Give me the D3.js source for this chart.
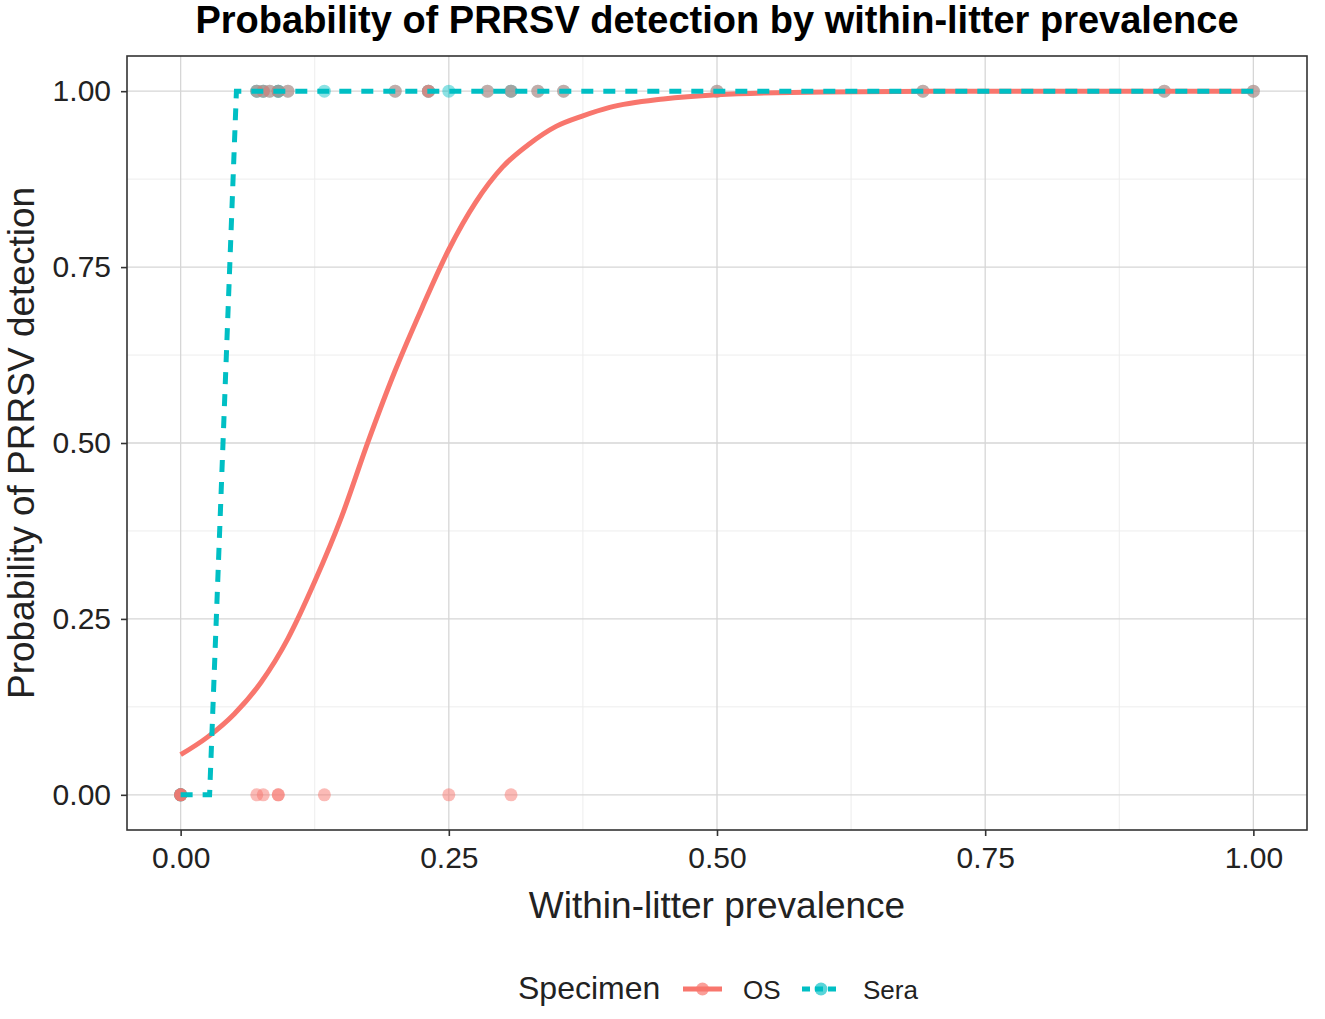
<!DOCTYPE html>
<html>
<head>
<meta charset="utf-8">
<script src="https://cdn.jsdelivr.net/npm/d3@7"></script>
<style>
  body { margin: 0; background: #fff; }
  text { font-family: "Liberation Sans", Arial, sans-serif; }
</style>
</head>
<body>
<div id="vis"></div>
<script>
const width = 1325;
const height = 1019;
const panel = { left: 127, right: 1307, top: 56, bottom: 830 };

// litter-level observations: prevalence, OS result, sera result
const litterPrev = [0, 0, 0, 0, 0.071, 0.071, 0.077, 0.077, 0.083, 0.091, 0.091, 0.091, 0.1,
  0.134, 0.2, 0.231, 0.231, 0.25, 0.286, 0.308, 0.308, 0.333, 0.357, 0.5, 0.692, 0.917, 1.0];
const osResult = [0, 0, 0, 0, 0, 1, 0, 1, 1, 0, 0, 1, 1,
  0, 1, 1, 1, 0, 1, 0, 1, 1, 1, 1, 1, 1, 1];
const seraResult = [0, 0, 0, 0, 1, 1, 1, 1, 1, 1, 1, 1, 1,
  1, 1, 1, 1, 1, 1, 1, 1, 1, 1, 1, 1, 1, 1];

// fitted curves
const osCurveX = [0, 0.025, 0.05, 0.075, 0.1, 0.125, 0.15, 0.175, 0.2, 0.225, 0.25, 0.275,
  0.3, 0.325, 0.35, 0.375, 0.4, 0.45, 0.5, 0.6, 0.7, 0.8, 0.9, 1.0];
const osCurveY = [0.057, 0.082, 0.115, 0.16, 0.222, 0.303, 0.395, 0.503, 0.603, 0.692, 0.775, 0.842,
  0.892, 0.925, 0.95, 0.965, 0.977, 0.989, 0.995, 0.999, 1.0, 1.0, 1.0, 1.0];
const seraCurveX = [0, 0.027, 0.052, 0.1, 0.5, 1.0];
const seraCurveY = [0, 0, 1, 1, 1, 1];

const xTicks = [0, 0.25, 0.5, 0.75, 1];
const yTicks = [0, 0.25, 0.5, 0.75, 1];
const minorTicks = [0.125, 0.375, 0.625, 0.875];

const osColor = "#F8766D";
const seraColor = "#00BFC4";

const xScale = d3.scaleLinear().domain([-0.05, 1.05]).range([panel.left, panel.right]);
const yScale = d3.scaleLinear().domain([-0.05, 1.05]).range([panel.bottom, panel.top]);

const svg = d3.select("#vis")
  .append("svg")
  .attr("width", width)
  .attr("height", height);

// grid
const grid = svg.append("g");
grid.selectAll(".vminor").data(minorTicks).enter().append("line")
  .attr("x1", d => xScale(d)).attr("x2", d => xScale(d))
  .attr("y1", panel.top).attr("y2", panel.bottom)
  .attr("stroke", "#ededed").attr("stroke-width", 1);
grid.selectAll(".hminor").data(minorTicks).enter().append("line")
  .attr("y1", d => yScale(d)).attr("y2", d => yScale(d))
  .attr("x1", panel.left).attr("x2", panel.right)
  .attr("stroke", "#ededed").attr("stroke-width", 1);
grid.selectAll(".vmajor").data(xTicks).enter().append("line")
  .attr("x1", d => xScale(d)).attr("x2", d => xScale(d))
  .attr("y1", panel.top).attr("y2", panel.bottom)
  .attr("stroke", "#d6d6d6").attr("stroke-width", 1.3);
grid.selectAll(".hmajor").data(yTicks).enter().append("line")
  .attr("y1", d => yScale(d)).attr("y2", d => yScale(d))
  .attr("x1", panel.left).attr("x2", panel.right)
  .attr("stroke", "#d6d6d6").attr("stroke-width", 1.3);

// points (sera first, OS over it)
const osPoints = litterPrev.map((p, i) => ({ x: p, y: osResult[i] }));
const seraPoints = litterPrev.map((p, i) => ({ x: p, y: seraResult[i] }));

svg.append("g").selectAll("circle")
  .data(seraPoints).enter().append("circle")
  .attr("cx", d => xScale(d.x)).attr("cy", d => yScale(d.y))
  .attr("r", 6.5).attr("fill", seraColor).attr("fill-opacity", 0.45);
svg.append("g").selectAll("circle")
  .data(osPoints).enter().append("circle")
  .attr("cx", d => xScale(d.x)).attr("cy", d => yScale(d.y))
  .attr("r", 6.5).attr("fill", osColor).attr("fill-opacity", 0.5);

// fitted lines
const line = d3.line()
  .x(d => xScale(d[0]))
  .y(d => yScale(d[1]));

svg.append("path")
  .datum(osCurveX.map((x, i) => [x, osCurveY[i]]))
  .attr("d", line.curve(d3.curveMonotoneX))
  .attr("fill", "none").attr("stroke", osColor).attr("stroke-width", 5);

svg.append("path")
  .datum(seraCurveX.map((x, i) => [x, seraCurveY[i]]))
  .attr("d", line.curve(d3.curveLinear))
  .attr("fill", "none").attr("stroke", seraColor).attr("stroke-width", 5)
  .attr("stroke-dasharray", "12,10");

// panel border
svg.append("rect")
  .attr("x", panel.left).attr("y", panel.top)
  .attr("width", panel.right - panel.left).attr("height", panel.bottom - panel.top)
  .attr("fill", "none").attr("stroke", "#333").attr("stroke-width", 1.6);

// axes
const xAxis = d3.axisBottom(xScale).tickValues(xTicks).tickFormat(d3.format(".2f")).tickSize(6).tickPadding(11);
const yAxis = d3.axisLeft(yScale).tickValues(yTicks).tickFormat(d3.format(".2f")).tickSize(6).tickPadding(10);

const gx = svg.append("g")
  .attr("transform", "translate(0," + panel.bottom + ")")
  .call(xAxis);
const gy = svg.append("g")
  .attr("transform", "translate(" + panel.left + ",0)")
  .call(yAxis);

[gx, gy].forEach(g => {
  g.select(".domain").remove();
  g.selectAll(".tick line").attr("stroke", "#333").attr("stroke-width", 1.6);
  g.selectAll(".tick text")
    .attr("fill", "#222")
    .style("font-size", "30px")
    .style("font-family", "'Liberation Sans', Arial, sans-serif");
});

// titles
svg.append("text")
  .text("Probability of PRRSV detection by within-litter prevalence")
  .attr("x", (panel.left + panel.right) / 2)
  .attr("y", 33)
  .attr("text-anchor", "middle")
  .style("font-size", "38px")
  .style("font-weight", "bold")
  .attr("fill", "#000");

svg.append("text")
  .text("Within-litter prevalence")
  .attr("x", (panel.left + panel.right) / 2)
  .attr("y", 918)
  .attr("text-anchor", "middle")
  .style("font-size", "37px")
  .attr("fill", "#222");

svg.append("text")
  .text("Probability of PRRSV detection")
  .attr("transform", "translate(34," + (panel.top + panel.bottom) / 2 + ") rotate(-90)")
  .attr("text-anchor", "middle")
  .style("font-size", "37px")
  .attr("fill", "#222");

// legend
const legend = svg.append("g");
legend.append("text")
  .text("Specimen")
  .attr("x", 518).attr("y", 999)
  .style("font-size", "32px").attr("fill", "#222");

const keys = [
  { name: "OS", color: osColor, dash: null, x1: 683, x2: 722, tx: 743, opacity: 0.5 },
  { name: "Sera", color: seraColor, dash: "8,5", x1: 802, x2: 840, tx: 863, opacity: 0.45 }
];
keys.forEach(k => {
  legend.append("line")
    .attr("x1", k.x1).attr("x2", k.x2).attr("y1", 989).attr("y2", 989)
    .attr("stroke", k.color).attr("stroke-width", 5)
    .attr("stroke-dasharray", k.dash);
  legend.append("circle")
    .attr("cx", (k.x1 + k.x2) / 2).attr("cy", 989).attr("r", 6.5)
    .attr("fill", k.color).attr("fill-opacity", k.opacity + 0.2);
  legend.append("text")
    .text(k.name)
    .attr("x", k.tx).attr("y", 999)
    .style("font-size", "26px").attr("fill", "#222");
});
</script>
</body>
</html>
